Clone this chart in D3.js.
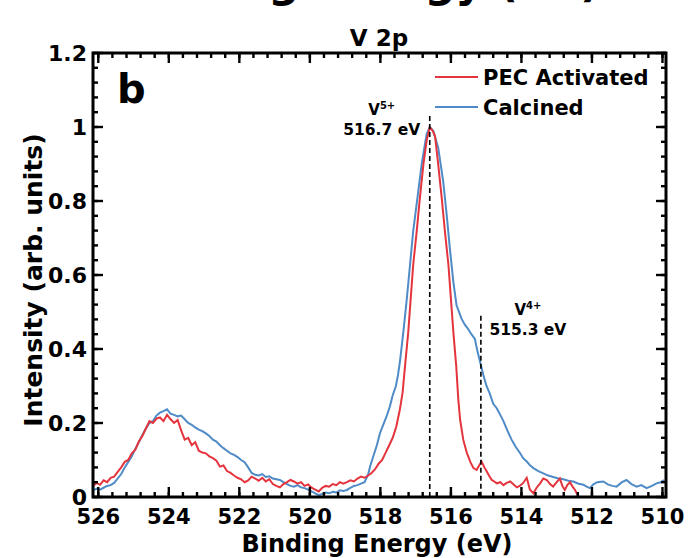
<!DOCTYPE html>
<html>
<head>
<meta charset="utf-8">
<script src="https://cdn.jsdelivr.net/npm/d3@7"></script>
<style>
  body { margin: 0; background: #fff; }
  text { font-family: "DejaVu Sans", sans-serif; font-weight: bold; }
</style>
</head>
<body>
<div id="chart"></div>
<script>
var width = 695,
    height = 558;

// binding energy (eV) and intensity
var pecEnergy = [526.15,526.05,525.95,525.85,525.75,525.65,525.55,525.45,525.35,525.25,525.15,525.05,524.95,524.85,524.75,524.65,524.55,524.45,524.35,524.25,524.15,524.05,523.95,523.85,523.75,523.65,523.55,523.45,523.35,523.25,523.15,523.05,522.95,522.85,522.75,522.65,522.55,522.45,522.35,522.25,522.15,522.05,521.95,521.85,521.75,521.65,521.55,521.45,521.35,521.25,521.15,521.05,520.95,520.85,520.75,520.65,520.55,520.45,520.35,520.25,520.15,520.05,519.95,519.85,519.75,519.65,519.55,519.45,519.35,519.25,519.15,519.05,518.95,518.85,518.75,518.65,518.55,518.45,518.35,518.25,518.15,518.05,517.95,517.85,517.75,517.65,517.55,517.45,517.37,517.30,517.21,517.14,517.07,516.97,516.88,516.78,516.69,516.60,516.52,516.45,516.36,516.26,516.17,516.07,516.00,515.93,515.85,515.79,515.74,515.65,515.55,515.45,515.36,515.27,515.20,515.13,515.05,514.99,514.92,514.84,514.77,514.70,514.60,514.51,514.42,514.32,514.22,514.13,514.05,513.95,513.85,513.76,513.66,513.57,513.47,513.38,513.28,513.19,513.10,513.00,512.91,512.84,512.77,512.70,512.62,512.55,512.48,512.42,512.38];
var pecIntensity = [0.030,0.038,0.033,0.045,0.040,0.052,0.055,0.068,0.080,0.095,0.100,0.118,0.128,0.150,0.165,0.185,0.205,0.200,0.212,0.215,0.205,0.222,0.210,0.200,0.208,0.180,0.155,0.160,0.140,0.148,0.125,0.120,0.118,0.110,0.105,0.098,0.082,0.085,0.070,0.065,0.058,0.052,0.048,0.040,0.045,0.055,0.050,0.044,0.052,0.042,0.048,0.035,0.030,0.026,0.035,0.040,0.046,0.042,0.036,0.040,0.030,0.034,0.025,0.020,0.015,0.025,0.030,0.028,0.035,0.032,0.040,0.036,0.040,0.045,0.042,0.050,0.055,0.052,0.058,0.065,0.075,0.090,0.100,0.120,0.140,0.160,0.190,0.235,0.282,0.355,0.445,0.536,0.627,0.718,0.808,0.899,0.962,1.000,0.990,0.975,0.899,0.808,0.718,0.627,0.536,0.445,0.355,0.264,0.210,0.155,0.120,0.095,0.078,0.073,0.085,0.096,0.080,0.070,0.058,0.046,0.042,0.037,0.040,0.032,0.038,0.042,0.034,0.026,0.030,0.038,0.052,0.020,0.010,0.025,0.037,0.050,0.046,0.035,0.028,0.040,0.050,0.030,0.019,0.032,0.040,0.028,0.019,0.008,0.000];

var calEnergy = [526.15,526.05,525.95,525.85,525.75,525.65,525.55,525.45,525.35,525.25,525.15,525.05,524.95,524.85,524.75,524.65,524.55,524.45,524.35,524.25,524.15,524.05,523.95,523.85,523.75,523.65,523.55,523.45,523.35,523.25,523.15,523.05,522.95,522.85,522.75,522.65,522.55,522.45,522.35,522.25,522.15,522.05,521.95,521.85,521.75,521.65,521.55,521.45,521.35,521.25,521.15,521.05,520.95,520.85,520.75,520.65,520.55,520.45,520.35,520.25,520.15,520.05,519.95,519.85,519.75,519.65,519.55,519.45,519.35,519.25,519.15,519.05,518.95,518.85,518.75,518.65,518.55,518.45,518.35,518.29,518.20,518.10,518.01,517.92,517.82,517.73,517.65,517.56,517.50,517.44,517.35,517.25,517.16,517.07,516.95,516.83,516.69,516.60,516.50,516.36,516.22,516.12,516.03,515.93,515.84,515.70,515.60,515.51,515.42,515.32,515.25,515.17,515.08,514.99,514.90,514.80,514.70,514.60,514.51,514.40,514.28,514.16,514.04,513.95,513.85,513.75,513.66,513.52,513.38,513.24,513.10,512.95,512.81,512.67,512.53,512.38,512.24,512.15,512.06,511.95,511.85,511.68,511.55,511.42,511.30,511.15,511.02,510.88,510.73,510.60,510.45,510.30,510.17,510.05,509.95];
var calIntensity = [0.018,0.022,0.020,0.025,0.030,0.032,0.038,0.050,0.062,0.080,0.095,0.110,0.130,0.148,0.168,0.185,0.200,0.205,0.220,0.228,0.232,0.237,0.225,0.222,0.218,0.220,0.210,0.200,0.195,0.188,0.182,0.178,0.172,0.165,0.155,0.150,0.140,0.132,0.125,0.118,0.114,0.108,0.100,0.094,0.080,0.065,0.060,0.058,0.062,0.054,0.056,0.050,0.048,0.046,0.040,0.035,0.030,0.028,0.032,0.026,0.024,0.020,0.015,0.010,0.005,0.008,0.012,0.010,0.014,0.012,0.018,0.016,0.019,0.025,0.030,0.032,0.036,0.040,0.060,0.083,0.110,0.140,0.173,0.195,0.219,0.245,0.275,0.300,0.330,0.370,0.445,0.536,0.627,0.718,0.808,0.899,0.980,1.000,0.990,0.944,0.854,0.763,0.672,0.581,0.518,0.482,0.465,0.454,0.440,0.427,0.395,0.364,0.330,0.300,0.280,0.252,0.240,0.222,0.205,0.180,0.155,0.135,0.119,0.105,0.096,0.085,0.078,0.070,0.064,0.058,0.054,0.050,0.048,0.044,0.042,0.036,0.033,0.028,0.024,0.035,0.040,0.042,0.034,0.030,0.028,0.040,0.046,0.035,0.028,0.032,0.024,0.030,0.037,0.040,0.046];

var xTicks = [526, 524, 522, 520, 518, 516, 514, 512, 510];
var yTicks = [0, 0.2, 0.4, 0.6, 0.8, 1, 1.2];
var yTickLabels = ["0", "0.2", "0.4", "0.6", "0.8", "1", "1.2"];

// peak markers
var peakNames = ["V", "V"];
var peakSups = ["5+", "4+"];
var peakLabels = ["516.7 eV", "515.3 eV"];
var peakPos = [516.6, 515.15];
var peakTop = [1.03, 0.49];

var seriesNames = ["PEC Activated", "Calcined"];
var seriesColors = ["#e4343d", "#4f8bc6"];

var margin = {left: 93, top: 53, right: 29, bottom: 61};
var plotW = width - margin.left - margin.right,
    plotH = height - margin.top - margin.bottom;

var x = d3.scaleLinear().domain([526.15, 509.9]).range([0, plotW]);
var y = d3.scaleLinear().domain([0, 1.2]).range([plotH, 0]);

var svg = d3.select("#chart").append("svg")
    .attr("width", width)
    .attr("height", height);

// cut-off title of the panel above
svg.append("text")
    .attr("x", 357)
    .attr("y", -3)
    .attr("text-anchor", "middle")
    .style("font-size", "43px")
    .text("Binding Energy (eV)");

svg.append("text")
    .attr("x", 379)
    .attr("y", 46)
    .attr("text-anchor", "middle")
    .style("font-size", "23px")
    .text("V 2p");

var g = svg.append("g")
    .attr("transform", "translate(" + margin.left + "," + margin.top + ")");

g.append("clipPath").attr("id", "clip")
  .append("rect")
    .attr("width", plotW)
    .attr("height", plotH);

var line = d3.line()
    .x(function(d) { return x(d[0]); })
    .y(function(d) { return y(d[1]); });

var curves = [
    d3.zip(pecEnergy, pecIntensity),
    d3.zip(calEnergy, calIntensity)
];

// calcined underneath, PEC on top
g.append("g").attr("clip-path", "url(#clip)")
  .selectAll("path")
    .data([1, 0])
  .enter().append("path")
    .attr("d", function(i) { return line(curves[i]); })
    .attr("fill", "none")
    .attr("stroke", function(i) { return seriesColors[i]; })
    .attr("stroke-width", 2);

// dashed peak lines
g.selectAll(".peak")
    .data(peakPos)
  .enter().append("line")
    .attr("class", "peak")
    .attr("x1", function(d) { return x(d); })
    .attr("x2", function(d) { return x(d); })
    .attr("y1", function(d, i) { return y(peakTop[i]); })
    .attr("y2", plotH)
    .attr("stroke", "#000")
    .attr("stroke-width", 1.6)
    .attr("stroke-dasharray", "5,3");

var ann = g.selectAll(".ann")
    .data(peakPos)
  .enter().append("g")
    .attr("class", "ann");

ann.append("text")
    .attr("x", function(d, i) { return i == 0 ? x(d) - 48 : x(d) + 47; })
    .attr("y", function(d, i) { return y(peakTop[i]) - 1; })
    .attr("text-anchor", "middle")
    .style("font-size", "15px")
    .text(function(d, i) { return peakNames[i]; })
  .append("tspan")
    .attr("dy", -6)
    .style("font-size", "10px")
    .text(function(d, i) { return peakSups[i]; });

ann.append("text")
    .attr("x", function(d, i) { return i == 0 ? x(d) - 48 : x(d) + 47; })
    .attr("y", function(d, i) { return y(peakTop[i]) + 19; })
    .attr("text-anchor", "middle")
    .style("font-size", "15.5px")
    .text(function(d, i) { return peakLabels[i]; });

// ticks on all four sides, pointing inward
var xMinor = d3.range(526, 509.9, -0.4);
var yMinor = d3.range(0, 1.2001, 0.04);

function tickSet(cls, data, len, horiz, side) {
    g.selectAll("." + cls)
        .data(data)
      .enter().append("line")
        .attr("class", cls)
        .attr("x1", function(d) { return horiz ? x(d) : (side ? plotW : 0); })
        .attr("x2", function(d) { return horiz ? x(d) : (side ? plotW - len : len); })
        .attr("y1", function(d) { return horiz ? (side ? 0 : plotH) : y(d); })
        .attr("y2", function(d) { return horiz ? (side ? len : plotH - len) : y(d); })
        .attr("stroke", "#000")
        .attr("stroke-width", 2.4);
}
tickSet("xminb", xMinor, 5, true, 0);
tickSet("xmint", xMinor, 5, true, 1);
tickSet("xmajb", xTicks, 10, true, 0);
tickSet("xmajt", xTicks, 10, true, 1);
tickSet("yminl", yMinor, 5, false, 0);
tickSet("yminr", yMinor, 5, false, 1);
tickSet("ymajl", yTicks, 10, false, 0);
tickSet("ymajr", yTicks, 10, false, 1);

g.append("rect")
    .attr("width", plotW)
    .attr("height", plotH)
    .attr("fill", "none")
    .attr("stroke", "#000")
    .attr("stroke-width", 3);

g.selectAll(".xlab")
    .data(xTicks)
  .enter().append("text")
    .attr("class", "xlab")
    .attr("x", function(d) { return x(d); })
    .attr("y", plotH + 27)
    .attr("text-anchor", "middle")
    .style("font-size", "21px")
    .text(function(d) { return d; });

g.selectAll(".ylab")
    .data(yTicks)
  .enter().append("text")
    .attr("class", "ylab")
    .attr("x", -6)
    .attr("y", function(d) { return y(d) + 8; })
    .attr("text-anchor", "end")
    .style("font-size", "22px")
    .text(function(d, i) { return yTickLabels[i]; });

svg.append("text")
    .attr("x", 377)
    .attr("y", 552)
    .attr("text-anchor", "middle")
    .style("font-size", "24px")
    .text("Binding Energy (eV)");

svg.append("text")
    .attr("transform", "translate(42,280) rotate(-90)")
    .attr("text-anchor", "middle")
    .style("font-size", "25px")
    .text("Intensity (arb. units)");

g.append("text")
    .attr("x", 24)
    .attr("y", 50)
    .style("font-size", "40px")
    .text("b");

// legend
var legend = g.selectAll(".legend")
    .data(seriesNames)
  .enter().append("g")
    .attr("class", "legend")
    .attr("transform", function(d, i) { return "translate(342," + (24 + i * 30) + ")"; });

legend.append("line")
    .attr("x1", 0)
    .attr("x2", 43)
    .attr("stroke", function(d, i) { return seriesColors[i]; })
    .attr("stroke-width", 2);

legend.append("text")
    .attr("x", 48)
    .attr("y", 8)
    .style("font-size", "21px")
    .text(function(d) { return d; });
</script>
</body>
</html>
